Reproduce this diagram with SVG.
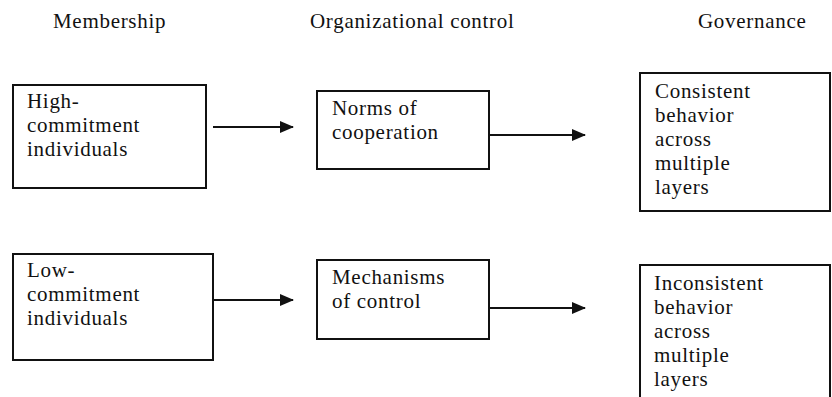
<svg xmlns="http://www.w3.org/2000/svg" width="832" height="397" viewBox="0 0 832 397">
<style>
  text { font-family: "Liberation Serif", "Times New Roman", serif; font-size: 21px; fill: #111; letter-spacing: 0.7px; }
  .hdr { letter-spacing: 0.7px; }
  .box { fill: #fff; stroke: #111; stroke-width: 2; }
  .conn { stroke: #111; stroke-width: 2; fill: none; }
</style>
<defs>
  <marker id="arrow" viewBox="0 0 14 12" refX="13" refY="6" markerWidth="14" markerHeight="12" markerUnits="userSpaceOnUse" orient="auto">
    <path d="M0,0 L14,6 L0,12 Z" fill="#111"/>
  </marker>
</defs>
<rect width="832" height="397" fill="#fff"/>
<g id="headers">
  <text class="hdr" x="53" y="28">Membership</text>
  <text class="hdr" x="310" y="28">Organizational control</text>
  <text class="hdr" x="698" y="28">Governance</text>
</g>
<g id="high-commitment">
  <rect class="box" x="13" y="85" width="193" height="103"/>
  <text x="27" y="108">High-</text>
  <text x="27" y="132">commitment</text>
  <text x="27" y="156">individuals</text>
</g>
<g id="norms">
  <rect class="box" x="317" y="91" width="172" height="78"/>
  <text x="332" y="115">Norms of</text>
  <text x="332" y="139">cooperation</text>
</g>
<g id="consistent">
  <rect class="box" x="640" y="73" width="190" height="138"/>
  <text x="655" y="98">Consistent</text>
  <text x="655" y="122">behavior</text>
  <text x="655" y="146">across</text>
  <text x="655" y="170">multiple</text>
  <text x="655" y="194">layers</text>
</g>
<g id="low-commitment">
  <rect class="box" x="13" y="254" width="200" height="106"/>
  <text x="27" y="277">Low-</text>
  <text x="27" y="301">commitment</text>
  <text x="27" y="325">individuals</text>
</g>
<g id="mechanisms">
  <rect class="box" x="317" y="260" width="172" height="79"/>
  <text x="332" y="284">Mechanisms</text>
  <text x="332" y="308">of control</text>
</g>
<g id="inconsistent">
  <rect class="box" x="640" y="265" width="190" height="140"/>
  <text x="654" y="290">Inconsistent</text>
  <text x="654" y="314">behavior</text>
  <text x="654" y="338">across</text>
  <text x="654" y="362">multiple</text>
  <text x="654" y="386">layers</text>
</g>
<g id="connectors">
  <line class="conn" x1="213" y1="127" x2="293" y2="127" marker-end="url(#arrow)"/>
  <line class="conn" x1="489" y1="135" x2="585" y2="135" marker-end="url(#arrow)"/>
  <line class="conn" x1="213" y1="300" x2="293" y2="300" marker-end="url(#arrow)"/>
  <line class="conn" x1="489" y1="308" x2="585" y2="308" marker-end="url(#arrow)"/>
</g>
</svg>
